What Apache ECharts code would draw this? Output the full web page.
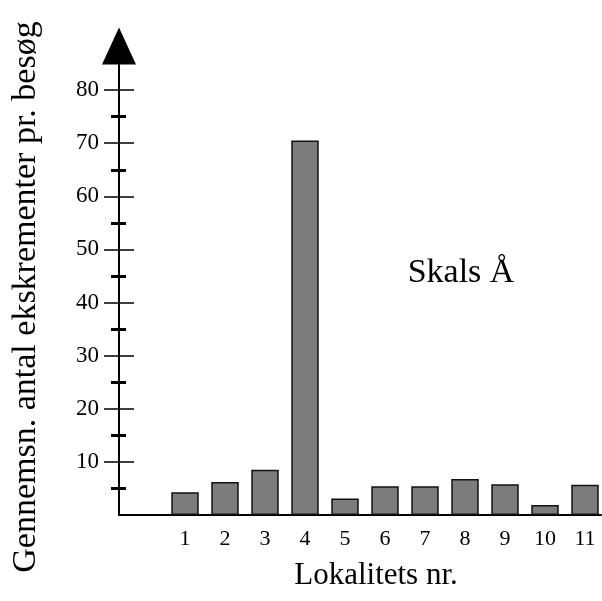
<!DOCTYPE html>
<html>
<head>
<meta charset="utf-8">
<script src="https://cdn.jsdelivr.net/npm/echarts@6/dist/echarts.min.js"></script>
<style>
html, body { margin: 0; background: #fff; }
#chart { width: 602px; height: 601px; }
</style>
</head>
<body>
<div id="chart"></div>
<script>
// lokaliteter og gennemsnitligt antal ekskrementer pr. besøg
var lokaliteter = [1, 2, 3, 4, 5, 6, 7, 8, 9, 10, 11];
var ekskrementer = [4.3, 6.2, 8.5, 70.5, 3.1, 5.4, 5.4, 6.8, 5.8, 1.9, 5.7];
// y-aksens mærker
var hovedTicks = [10, 20, 30, 40, 50, 60, 70, 80];
var mellemTicks = [5, 15, 25, 35, 45, 55, 65, 75];

var font = 'Liberation Serif';
var chart = echarts.init(document.getElementById('chart'));

// fælles indstillinger for de fire y-akser (kryds-mærker på begge sider)
function yAkse(ticks, inside, len, width, showLine, showLabel) {
    return {
        type: 'value',
        position: 'left',
        min: 0,
        max: 88.3,
        interval: 10,
        splitLine: { show: false },
        axisLine: {
            show: showLine,
            onZero: false,
            symbol: ['none', 'triangle'],
            symbolSize: [34, 37],
            lineStyle: { color: '#000', width: 2 }
        },
        axisTick: {
            show: true,
            inside: inside,
            length: len,
            customValues: ticks,
            lineStyle: { color: '#000', width: width }
        },
        axisLabel: {
            show: showLabel,
            customValues: hovedTicks,
            margin: 20,
            color: '#000',
            fontFamily: font,
            fontSize: 23
        }
    };
}

var option = {
    backgroundColor: '#fff',
    animation: false,
    grid: { left: 119, right: 1, top: 46, bottom: 86 },
    xAxis: {
        type: 'value',
        min: -0.65,
        max: 11.4,
        splitLine: { show: false },
        axisLine: { onZero: false, lineStyle: { color: '#000', width: 2 } },
        axisTick: { show: false },
        axisLabel: {
            customValues: lokaliteter,
            margin: 13,
            color: '#000',
            fontFamily: font,
            fontSize: 22
        }
    },
    yAxis: [
        yAkse(hovedTicks, false, 15, 1.5, true, true),
        yAkse(hovedTicks, true, 15, 1.5, false, false),
        yAkse(mellemTicks, false, 8, 3, false, false),
        yAkse(mellemTicks, true, 7, 3, false, false)
    ],
    series: [{
        type: 'bar',
        xAxisIndex: 0,
        yAxisIndex: 0,
        barWidth: 27.5,
        itemStyle: {
            color: '#7c7c7c',
            borderColor: '#111',
            borderWidth: 1.5
        },
        data: lokaliteter.map(function (k, i) { return [k, ekskrementer[i]]; })
    }],
    graphic: [
        {
            type: 'text',
            x: 26,
            y: 297,
            rotation: Math.PI / 2,
            style: {
                text: 'Gennemsn. antal ekskrementer pr. besøg',
                font: '34px "Liberation Serif"',
                fill: '#000',
                textAlign: 'center',
                textVerticalAlign: 'middle'
            }
        },
        {
            type: 'text',
            x: 461,
            y: 273,
            style: {
                text: 'Skals Å',
                font: '34px "Liberation Serif"',
                fill: '#000',
                textAlign: 'center',
                textVerticalAlign: 'middle'
            }
        },
        {
            type: 'text',
            x: 376,
            y: 576,
            style: {
                text: 'Lokalitets nr.',
                font: '31px "Liberation Serif"',
                fill: '#000',
                textAlign: 'center',
                textVerticalAlign: 'middle'
            }
        }
    ]
};
chart.setOption(option);
</script>
</body>
</html>
